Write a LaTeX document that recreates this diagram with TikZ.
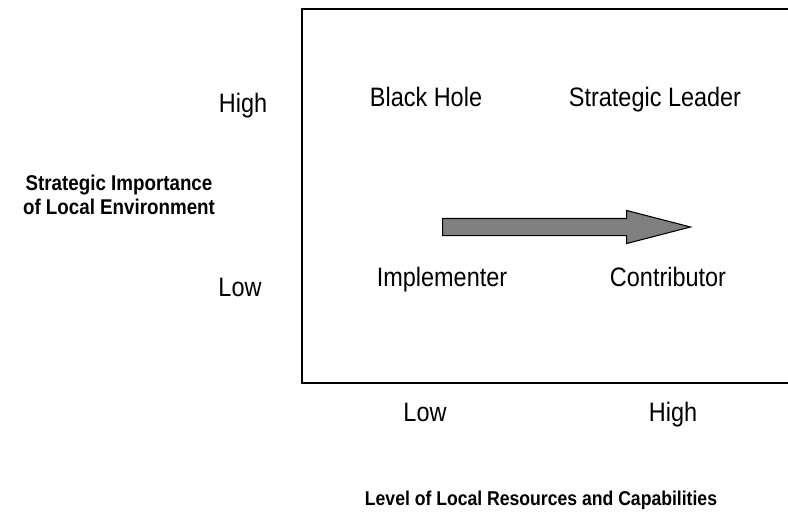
\documentclass[tikz,border=0pt]{standalone}
\usepackage{fontspec}
\setmainfont{Liberation Sans}[FakeStretch=0.88]
\usetikzlibrary{shapes.arrows}

\begin{document}
\begin{tikzpicture}[x=0.75pt, y=-0.75pt,
		cell/.style={anchor=base, font=\fontsize{20}{24}\selectfont},
		axis/.style={align=center, font=\bfseries\fontsize{15}{18}\selectfont}]
		\useasboundingbox (0, 0) rectangle (788, 525);
		% open frame, right side runs off the page
		\draw [line width=1.3pt](788, 9) -- (302, 9) -- (302, 383) -- (788, 383);
		\node (hi)at (243, 112)[cell]  {High};
		\node (lo)at (240, 296)[cell]  {Low};
		\node (bh)at (426, 106)[cell]  {Black Hole};
		\node (sl)at (655, 106)[cell]  {Strategic Leader};
		\node (im)at (442, 286)[cell]  {Implementer};
		\node (co)at (668, 286)[cell]  {Contributor};
		\node (xlo)at (425, 421)[cell]  {Low};
		\node (xhi)at (673, 421)[cell]  {High};
		\node (ylab)at (119, 195)[axis, font=\bfseries\fontsize{16}{18}\selectfont]  {Strategic Importance\\of Local Environment};
		\node (xlab)at (541, 500)[axis]  {Level of Local Resources and Capabilities};
		\node (move)at (442, 227)[single arrow, anchor=tail, draw, fill=gray, line width=0.8pt, inner xsep=0pt, inner ysep=6pt,
			minimum height=186pt, single arrow head extend=6pt, single arrow tip angle=29]  {};
	\end{tikzpicture}
\end{document}
